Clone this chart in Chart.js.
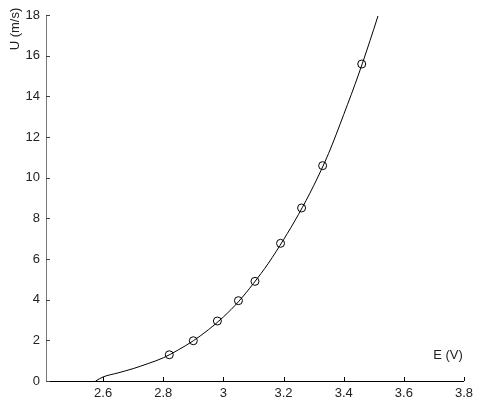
<!DOCTYPE html>
<html>
<head>
<meta charset="utf-8">
<script src="https://cdn.jsdelivr.net/npm/chart.js@4/dist/chart.umd.min.js"></script>
<style>
  html, body { margin: 0; padding: 0; background: #fff; }
  #wrap { width: 478px; height: 408px; }
</style>
</head>
<body>
<div id="wrap"><canvas id="chart"></canvas></div>
<script>
// measured points (circles)
const measE = [2.82, 2.90, 2.98, 3.05, 3.105, 3.19, 3.26, 3.33, 3.46];
const measU = [1.29, 1.98, 2.95, 3.95, 4.90, 6.77, 8.51, 10.59, 15.59];

// fitted curve
const curveE = [2.575, 2.60, 2.65, 2.70, 2.75, 2.80, 2.85, 2.90, 2.95, 3.00, 3.05, 3.10, 3.15, 3.20, 3.25, 3.30, 3.35, 3.40, 3.45, 3.50, 3.514];
const curveU = [0.0, 0.20, 0.40, 0.61, 0.86, 1.14, 1.53, 1.98, 2.52, 3.15, 3.90, 4.80, 5.80, 6.95, 8.20, 9.60, 11.20, 13.10, 15.10, 17.30, 17.95];

const xTicks = [2.6, 2.8, 3, 3.2, 3.4, 3.6, 3.8];
const yTicks = [0, 2, 4, 6, 8, 10, 12, 14, 16, 18];

const font = { family: "'Liberation Sans', Arial, sans-serif", size: 13 };

// inward tick marks + axis titles, MATLAB style
const extras = {
  id: 'extras',
  afterDraw(chart) {
    const ctx = chart.ctx;
    const x = chart.scales.x, y = chart.scales.y;
    const area = chart.chartArea;
    ctx.save();
    ctx.lineWidth = 1;
    ctx.strokeStyle = '#000';
    xTicks.forEach(v => {
      const px = Math.round(x.getPixelForValue(v)) + 0.5;
      ctx.beginPath();
      ctx.moveTo(px, area.bottom);
      ctx.lineTo(px, area.bottom - 4);
      ctx.stroke();
    });
    ctx.strokeStyle = '#444';
    yTicks.forEach(v => {
      const py = Math.round(y.getPixelForValue(v)) + 0.5;
      ctx.beginPath();
      ctx.moveTo(area.left, py);
      ctx.lineTo(area.left + 4, py);
      ctx.stroke();
    });

    ctx.fillStyle = '#222';
    ctx.font = font.size + 'px ' + font.family;
    ctx.textAlign = 'center';
    ctx.textBaseline = 'middle';
    ctx.fillText('E (V)', 448, 355);
    ctx.translate(15, 29);
    ctx.rotate(-Math.PI / 2);
    ctx.fillText('U (m/s)', 0, 0);
    ctx.restore();
  }
};

new Chart(document.getElementById('chart'), {
  type: 'scatter',
  data: {
    datasets: [
      {
        label: 'fit',
        data: curveE.map((e, i) => ({ x: e, y: curveU[i] })),
        showLine: true,
        borderColor: '#000',
        borderWidth: 1,
        pointRadius: 0,
        cubicInterpolationMode: 'monotone'
      },
      {
        label: 'measured',
        data: measE.map((e, i) => ({ x: e, y: measU[i] })),
        showLine: false,
        borderColor: '#000',
        backgroundColor: 'rgba(0,0,0,0)',
        borderWidth: 1,
        pointRadius: 4
      }
    ]
  },
  options: {
    responsive: true,
    maintainAspectRatio: false,
    animation: false,
    layout: { padding: { top: 15, right: 14, left: 0, bottom: 0 } },
    plugins: {
      legend: { display: false },
      tooltip: { enabled: false }
    },
    scales: {
      x: {
        type: 'linear',
        min: 2.41,
        max: 3.8,
        afterBuildTicks: s => { s.ticks = xTicks.map(v => ({ value: v })); },
        afterFit: s => { s.height = 27; },
        grid: { drawOnChartArea: false, drawTicks: false },
        border: { color: '#000', width: 1 },
        ticks: { color: '#222', font: font, padding: 5, maxRotation: 0, callback: v => String(v) }
      },
      y: {
        type: 'linear',
        min: 0,
        max: 18,
        afterBuildTicks: s => { s.ticks = yTicks.map(v => ({ value: v })); },
        afterFit: s => { s.width = 46; },
        grid: { drawOnChartArea: false, drawTicks: false },
        border: { color: '#777', width: 1 },
        ticks: { color: '#222', font: font, padding: 6, callback: v => String(v) }
      }
    }
  },
  plugins: [extras]
});
</script>
</body>
</html>
